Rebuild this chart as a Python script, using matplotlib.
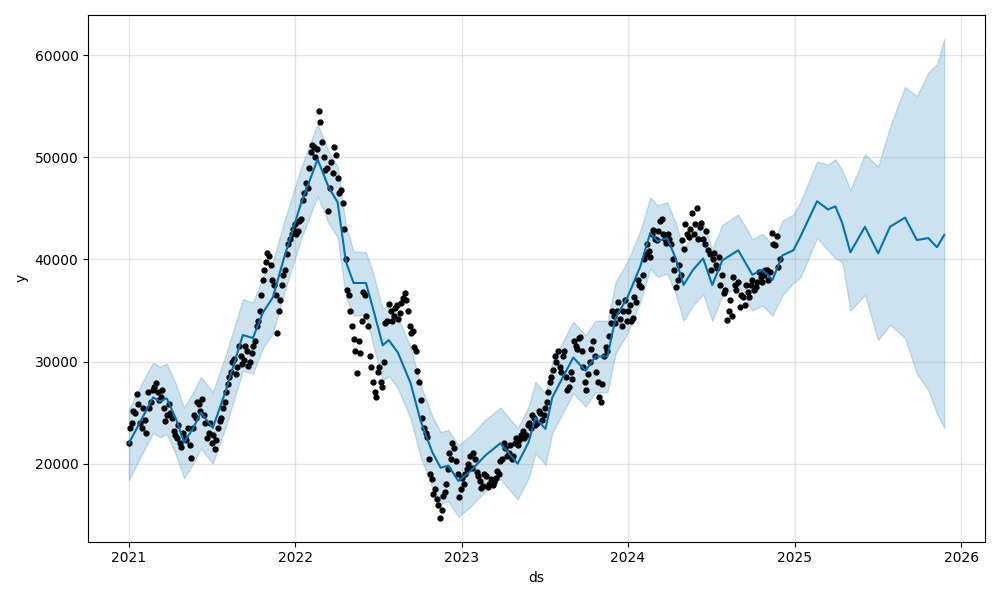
import pandas as pd
import numpy as np
import matplotlib
matplotlib.use('Agg')
import matplotlib.pyplot as plt

# observed points, read twice a week: one list starting 2021-01-01,
# one starting 2021-01-04 (both weekly)
obs_start_a = '2021-01-01'
obs_y_a = [
    22000, 24000, 25000, 25800, 23500, 24300, 27000, 26000, 27500, 27000,
    26500, 25500, 24800, 25000, 23200, 22500, 22000, 23000, 22300, 21800,
    23500, 24500, 25800, 26300, 24000, 23000, 22000, 21400, 23500, 24500,
    26000, 27800, 29000, 30300, 29500, 30500, 30200, 31000, 30000, 31500,
    33500, 35000, 38000, 39800, 40300, 38000, 36500, 35000, 37500, 39000,
    41500, 42500, 43500, 42800, 44000, 46500, 47000, 50500, 51000, 50800,
    53500, 50000, 49000, 47000, 48500, 50200, 46500, 45500, 40000, 36500,
    33500, 31000, 32000, 34000, 36500, 33500, 29500, 27000, 29000, 28000,
    30000, 34000, 35000, 34500, 35500, 34800, 36200, 36000, 33500, 33000,
    31000, 28000, 24500, 23000, 20500, 18500, 17500, 16000, 15500, 17200,
    19500, 20500, 21500, 19000, 17500, 18000, 19500, 20800, 21000, 19200,
    18300, 17800, 18800, 18000, 17900, 18600, 19000, 20500, 21500, 21000,
    20500, 22000, 21800, 22800, 22500, 23800, 23500, 24500, 24000, 25000,
    24800, 26000, 28000, 29200, 30000, 29500, 30500, 28500, 27500, 28300,
    31500, 32300, 31000, 28000, 28800, 31200, 30500, 28000, 26000, 30500,
    31000, 33800, 34500, 35000, 34200, 35000, 34000, 35500, 34300, 35800,
    37500, 38500, 40500, 40800, 42500, 42000, 42800, 44000, 42000, 42500,
    41500, 39000, 38000, 38500, 41000, 42500, 43000, 42500, 45000, 43200,
    42000, 42800, 40500, 40000, 39500, 40200, 38500, 37000, 35000, 34500,
    37500, 37800, 36500, 35500, 36800, 37500, 37000, 37800, 38300, 38500,
    39000, 38800, 41500, 42300, 40000,
]
obs_start_b = '2021-01-04'
obs_y_b = [
    23500, 25200, 26800, 24000, 25500, 23000, 25500, 27200, 27900, 26200,
    27200, 24200, 25800, 24500, 22800, 23800, 21600, 22500, 23500, 20600,
    24800, 26000, 25200, 24800, 22500, 24000, 22800, 22300, 24200, 25500,
    27000, 28500, 30000, 28800, 31500, 29800, 31500, 29600, 30800, 32000,
    34000, 36500, 39000, 40600, 39500, 37500, 32800, 36000, 38500, 40500,
    42000, 43000, 42500, 43800, 45800, 47500, 49000, 51200, 50000, 54500,
    51500, 48800, 44700, 49500, 51000, 48000, 46800, 43000, 37000, 35000,
    32200, 28900, 30800, 36800, 34500, 30500, 28000, 26500, 29500, 27500,
    33800, 35600, 34000, 35200, 34200, 35700, 36700, 35000, 32800, 31400,
    29100, 26200, 23500, 22600, 19000, 17000, 16500, 14700, 16800, 18000,
    21000, 22000, 20300, 16700, 18600, 19000, 20000, 19600, 20500, 18800,
    17600, 19000, 17700, 18500, 18200, 19300, 20300, 22000, 20800, 21800,
    20800, 22500, 22300, 23200, 22800, 24000, 24800, 23800, 25200, 24300,
    25500, 27000, 28500, 30500, 31000, 29000, 31000, 27200, 29000, 32000,
    31200, 32400, 29500, 27200, 30000, 32000, 29000, 26500, 27800, 31400,
    32500, 35000, 33800, 35800, 33500, 36000, 35000, 34000, 36300, 38000,
    37300, 40000, 41500, 40200, 42900, 41900, 43800, 42500, 41600, 42000,
    40000, 37300, 39500, 41900, 43500, 42200, 44600, 43500, 42000, 43600,
    41500, 40900, 39000, 40600, 39200, 37500, 36700, 34100, 36000, 38300,
    37000, 35300, 36300, 37500, 36300, 38000, 37300, 38800, 37800, 39000,
    38000, 42600, 41400, 39300,
]

# forecast line and uncertainty interval
fc_dates = [
    '2021-01-01', '2021-01-27', '2021-02-23', '2021-03-10', '2021-03-25',
    '2021-04-14', '2021-05-02', '2021-05-21', '2021-06-08', '2021-07-04',
    '2021-08-02', '2021-09-08', '2021-09-30', '2021-10-22', '2021-11-13',
    '2021-12-07', '2022-01-13', '2022-02-19', '2022-03-15', '2022-04-04',
    '2022-04-22', '2022-05-09', '2022-06-05', '2022-06-20', '2022-07-12',
    '2022-07-25', '2022-08-14', '2022-09-11', '2022-10-03', '2022-10-29',
    '2022-11-16', '2022-12-03', '2022-12-25', '2023-01-21', '2023-02-22',
    '2023-03-27', '2023-05-04', '2023-05-28', '2023-06-12', '2023-07-04',
    '2023-07-19', '2023-09-03', '2023-09-30', '2023-10-22', '2023-11-17',
    '2023-12-05', '2023-12-31', '2024-01-28', '2024-02-19', '2024-03-06',
    '2024-03-27', '2024-04-14', '2024-05-02', '2024-05-23', '2024-06-14',
    '2024-07-04', '2024-07-26', '2024-08-30', '2024-09-30', '2024-10-22',
    '2024-11-13', '2024-12-05', '2024-12-29', '2025-01-13', '2025-02-19',
    '2025-03-15', '2025-03-31', '2025-04-15', '2025-05-03', '2025-06-04',
    '2025-07-03', '2025-07-29', '2025-08-31', '2025-09-26', '2025-10-21',
    '2025-11-09', '2025-11-25',
]
yhat = [
    22000, 24200, 26500, 26100, 26400, 24400, 22100, 23400, 25000, 23500,
    27200, 32600, 32300, 34800, 36300, 40100, 45400, 49800, 47100, 45600,
    39800, 37700, 37700, 35300, 31600, 32100, 30900, 27900, 24200, 21100,
    19600, 19800, 18300, 19300, 20800, 22000, 20000, 22100, 24500, 23400,
    26500, 30400, 29100, 30500, 30500, 34300, 36300, 39300, 42600, 41800,
    42100, 40200, 37500, 39000, 40100, 37500, 39900, 40900, 38500, 39000,
    38000, 40400, 40900, 42200, 45700, 44900, 45200, 43600, 40700, 43200,
    40600, 43200, 44100, 41900, 42100, 41200, 42400,
]
yhat_lower = [
    18400, 20700, 23000, 22600, 22900, 20900, 18600, 19900, 21500, 20000,
    23700, 29100, 28800, 31300, 32800, 36600, 41900, 46200, 43600, 42100,
    36300, 34500, 34600, 31800, 28100, 28600, 27400, 24400, 20700, 17600,
    16100, 16300, 14800, 15800, 17300, 18500, 16500, 18600, 21000, 19900,
    23000, 26900, 25600, 27000, 27000, 30800, 32800, 35800, 39100, 38300,
    38600, 36700, 34000, 35500, 36600, 34000, 36400, 37400, 35000, 35500,
    34500, 36500, 37700, 38200, 42100, 40900, 40100, 39800, 35000, 36500,
    32100, 33600, 32300, 28800, 27200, 24900, 23500,
]
yhat_upper = [
    25300, 27700, 29900, 29500, 29800, 27800, 25500, 26900, 28500, 27000,
    30700, 36100, 35800, 38300, 39800, 43600, 48900, 53300, 50600, 49100,
    43300, 40800, 40700, 38800, 35100, 35600, 34400, 31400, 27700, 24600,
    23100, 23300, 21800, 22800, 24300, 25500, 23500, 25600, 28000, 26900,
    30000, 33900, 32600, 34000, 34000, 37800, 39800, 42800, 46100, 45300,
    45600, 43700, 41000, 42500, 43600, 41000, 43400, 44400, 42000, 42500,
    41500, 43800, 44400, 45600, 49600, 49300, 49800, 48800, 46800, 50300,
    49100, 53000, 56900, 56000, 58300, 59100, 61600,
]

obs_t_a = pd.date_range(obs_start_a, periods=len(obs_y_a), freq='7D')
obs_t_b = pd.date_range(obs_start_b, periods=len(obs_y_b), freq='7D')
fc_t = pd.to_datetime(fc_dates)

fig = plt.figure(facecolor='w', figsize=(10, 6))
ax = fig.add_subplot(111)
ax.plot(obs_t_a, obs_y_a, 'k.', ms=7)
ax.plot(obs_t_b, obs_y_b, 'k.', ms=7)
ax.plot(fc_t, yhat, ls='-', c='#0072B2')
ax.fill_between(fc_t, yhat_lower, yhat_upper, color='#0072B2', alpha=0.2)
ax.grid(True, which='major', c='gray', ls='-', lw=1, alpha=0.2)
ax.set_xlabel('ds')
ax.set_ylabel('y')
fig.tight_layout()
fig.savefig('out.png', dpi=100)
